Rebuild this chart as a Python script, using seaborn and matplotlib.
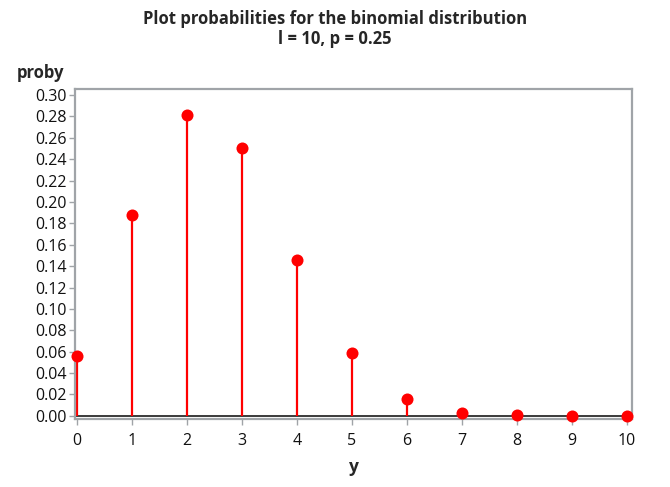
import numpy as np
import pandas as pd
import matplotlib
matplotlib.use("Agg")
import matplotlib.pyplot as plt
import seaborn as sns

# binomial probabilities, n = 10, p = 0.25
y_vals = [0, 1, 2, 3, 4, 5, 6, 7, 8, 9, 10]
proby = [0.0563, 0.1877, 0.2816, 0.2503, 0.1460, 0.0584, 0.0162, 0.0031, 0.0004, 0.00003, 0.000001]
y_ticks = [0.00, 0.02, 0.04, 0.06, 0.08, 0.10, 0.12, 0.14, 0.16, 0.18, 0.20,
           0.22, 0.24, 0.26, 0.28, 0.30]

sns.set_style("white")
plt.rcParams['font.family'] = ['Open Sans', 'DejaVu Sans']

df = pd.DataFrame({"y": y_vals, "proby": proby})

fig = plt.figure(figsize=(6.7, 4.87), dpi=100)
ax = fig.add_axes([0.112, 0.140, 0.831, 0.677])

# needles
ax.vlines(df["y"], 0, df["proby"], color="#ff0000", lw=1.6, zorder=2)
ax.axhline(0, color="#3a3a3a", lw=1.4, zorder=1)
sns.scatterplot(data=df, x="y", y="proby", color="#ff0000", s=75,
                edgecolor="#ff0000", linewidth=0, ax=ax, zorder=3, clip_on=False)

ax.set_xlim(-0.036, 10.09)
ax.set_ylim(-0.0028, 0.3056)
ax.set_xticks(y_vals)
ax.set_yticks(y_ticks)
ax.set_yticklabels([f"{t:.2f}" for t in y_ticks])

for s in ax.spines.values():
    s.set_color("#a0a4a8")
    s.set_linewidth(1.6)

ax.tick_params(axis="both", which="both", length=4, width=1, color="#a0a4a8",
               labelsize=11.5, labelcolor="#111111", direction="out")
ax.tick_params(axis="x", pad=6)
ax.tick_params(axis="y", pad=2)
ax.xaxis.set_ticks_position("bottom")
ax.yaxis.set_ticks_position("left")

ax.set_xlabel("y", fontsize=12.5, fontweight="bold", labelpad=7)
ax.set_ylabel("")
fig.text(0.025, 0.850, "proby", fontsize=12, fontweight="bold", ha="left", va="center")

fig.text(0.5, 0.962, "Plot probabilities for the binomial distribution",
         ha="center", va="center", fontsize=12, fontweight="bold")
fig.text(0.5, 0.920, "l = 10, p = 0.25",
         ha="center", va="center", fontsize=12, fontweight="bold")

fig.savefig("out.png", dpi=100, facecolor="white")
